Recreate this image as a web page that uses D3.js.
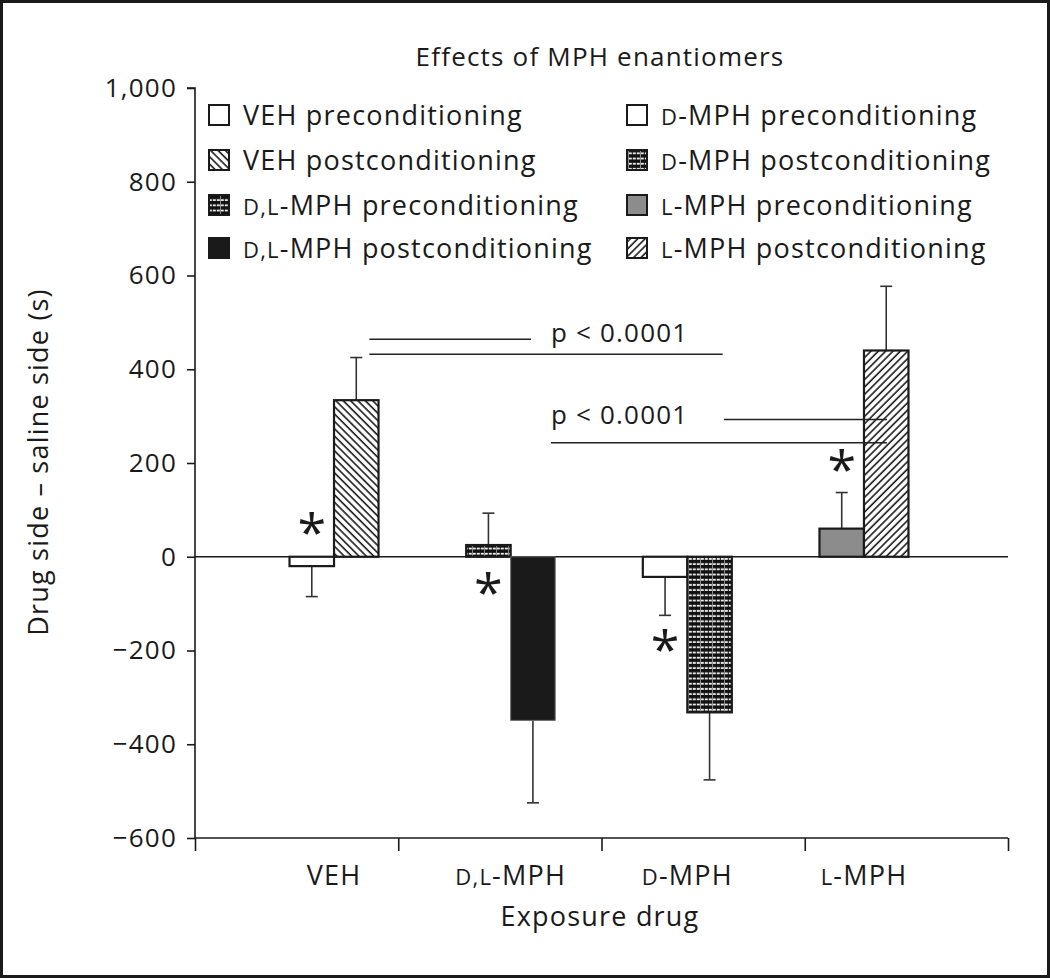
<!DOCTYPE html>
<html><head><meta charset="utf-8">
<script src="https://cdn.jsdelivr.net/npm/d3@7"></script>
<style>
html,body{margin:0;padding:0;background:#fff;}
svg{display:block;}
text{font-family:"Open Sans","Noto Sans",sans-serif;fill:#1a1a1a;}
</style></head><body>
<script>
// ---- data ----
const groups = ["VEH", "D,L-MPH", "D-MPH", "L-MPH"];
const preValues = [-20, 25, -43, 60];
const preErrors = [65, 68, 82, 77];
const postValues = [334, -349, -332, 440];
const postErrors = [91, 176, 144, 137];
const yTicks = [-600, -400, -200, 0, 200, 400, 600, 800, 1000];
const legendLabels = [
  ["VEH", " preconditioning"], ["VEH", " postconditioning"],
  ["D,L", "-MPH preconditioning"], ["D,L", "-MPH postconditioning"],
  ["D", "-MPH preconditioning"], ["D", "-MPH postconditioning"],
  ["L", "-MPH preconditioning"], ["L", "-MPH postconditioning"]
];
// asterisks: group index, y value
const asterisks = [[0, 61], [1, -67], [2, -189], [3, 196]];
// significance brackets: [x1 (group units), x2, y value]
const sigLines = [[0.2, 1.115, 464], [0.2, 2.2, 432], [2.207, 3.13, 293], [1.228, 3.13, 243]];
const sigTexts = [[1.228, 479, "p < 0.0001"], [1.228, 304, "p < 0.0001"]];

const W = 1050, H = 978;
const svg = d3.select("body").append("svg").attr("width", W).attr("height", H);

// patterns
const defs = svg.append("defs");
function hatch(id, angle) {
  const p = defs.append("pattern").attr("id", id).attr("patternUnits", "userSpaceOnUse")
    .attr("width", 5.2).attr("height", 10).attr("patternTransform", `rotate(${angle})`);
  p.append("rect").attr("width", 5.2).attr("height", 10).attr("fill", "#fff");
  p.append("line").attr("x1", 1).attr("x2", 1).attr("y1", 0).attr("y2", 10)
    .attr("stroke", "#1a1a1a").attr("stroke-width", 1.6);
}
hatch("hatchBack", -45);
hatch("hatchFwd", 45);
const g = defs.append("pattern").attr("id", "grid").attr("patternUnits", "userSpaceOnUse")
  .attr("width", 12).attr("height", 5.2);
g.append("rect").attr("width", 12).attr("height", 5.2).attr("fill", "#111");
[0.8, 4.8, 8.8].forEach(x => g.append("rect").attr("x", x).attr("y", 1.6).attr("width", 3).attr("height", 1.8).attr("fill", "#f2f2f2"));
g.append("rect").attr("x", 4).attr("y", 0).attr("width", 0.8).attr("height", 5.2).attr("fill", "#aaa");

const fills = {
  pre: ["#fff", "url(#grid)", "#fff", "#8c8c8c"],
  post: ["url(#hatchBack)", "#1a1a1a", "url(#grid)", "url(#hatchFwd)"]
};

// border
svg.append("rect").attr("x", 1.5).attr("y", 1.5).attr("width", W - 3).attr("height", H - 3)
  .attr("fill", "none").attr("stroke", "#1a1a1a").attr("stroke-width", 3);

// scales
const y = d3.scaleLinear().domain([-600, 1000]).range([838, 88]);
const x = d3.scaleBand().domain(groups).range([245.7, 952.3]).padding(0);
const xi = d3.scaleLinear().domain([0, 1]).range([x(groups[0]) + x.bandwidth() / 2, x(groups[1]) + x.bandwidth() / 2]);
const xTick = d3.scaleLinear().domain([0, 4]).range([195, 1008]);
const sub = d3.scaleBand().domain(["pre", "post"]).range([-44.5, 44.5]);
const cx = gname => x(gname) + x.bandwidth() / 2;

const LS = "1.2px";

// title
svg.append("text").attr("x", 600).attr("y", 66).attr("text-anchor", "middle")
  .attr("font-size", 26).attr("letter-spacing", LS).text("Effects of MPH enantiomers");

// y axis
const yAxis = svg.append("g").attr("transform", "translate(195,0)")
  .call(d3.axisLeft(y).tickValues(yTicks).tickSize(8).tickPadding(10)
    .tickFormat(d => (d < 0 ? "\u2212" : "") + d3.format(",")(Math.abs(d))));
yAxis.select(".domain").attr("stroke", "#1a1a1a").attr("stroke-width", 1.6).attr("d", `M-8,${y(1000)}H0V${y(-600)}`);
yAxis.selectAll(".tick line").attr("stroke", "#1a1a1a").attr("stroke-width", 1.6);
yAxis.selectAll(".tick text").attr("font-size", 26).attr("fill", "#1a1a1a").attr("letter-spacing", LS)
  .attr("font-family", "'Open Sans',sans-serif");

// x axis
const xAxis = svg.append("g").attr("transform", "translate(0,838)")
  .call(d3.axisBottom(xTick).tickValues([0, 1, 2, 3, 4]).tickSize(13).tickFormat(""));
xAxis.select(".domain").attr("stroke", "#1a1a1a").attr("stroke-width", 1.6).attr("d", `M${xTick(0)},0H${xTick(4)}`);
xAxis.selectAll(".tick line").attr("stroke", "#1a1a1a").attr("stroke-width", 1.6);

// category labels with small caps
function smallCapLabel(sel, first, rest, big, small) {
  sel.append("tspan").attr("font-size", small).text(first);
  sel.append("tspan").attr("font-size", big).text(rest);
}
groups.forEach(gname => {
  const t = svg.append("text").attr("x", cx(gname)).attr("y", 885).attr("text-anchor", "middle")
    .attr("letter-spacing", LS);
  if (gname === "VEH") t.attr("font-size", 27).text("VEH");
  else {
    const i = gname.indexOf("-");
    smallCapLabel(t, gname.slice(0, i), gname.slice(i), 27, 22);
  }
});

// zero line
svg.append("line").attr("x1", 195).attr("x2", 1008).attr("y1", y(0)).attr("y2", y(0))
  .attr("stroke", "#1a1a1a").attr("stroke-width", 1.6);

// bars
const rows = [];
groups.forEach((gname, i) => {
  rows.push({ g: gname, s: "pre", v: preValues[i], e: preErrors[i], fill: fills.pre[i], i });
  rows.push({ g: gname, s: "post", v: postValues[i], e: postErrors[i], fill: fills.post[i], i });
});
// error bars
rows.forEach(d => {
  const xc = cx(d.g) + sub(d.s) + sub.bandwidth() / 2;
  const end = d.v + Math.sign(d.v) * d.e;
  svg.append("line").attr("x1", xc).attr("x2", xc).attr("y1", y(d.v)).attr("y2", y(end))
    .attr("stroke", "#333").attr("stroke-width", 1.6);
  svg.append("line").attr("x1", xc - 6).attr("x2", xc + 6).attr("y1", y(end)).attr("y2", y(end))
    .attr("stroke", "#333").attr("stroke-width", 1.6);
});
svg.selectAll("rect.bar").data(rows).join("rect").attr("class", "bar")
  .attr("x", d => cx(d.g) + sub(d.s))
  .attr("width", sub.bandwidth())
  .attr("y", d => y(Math.max(0, d.v)))
  .attr("height", d => Math.abs(y(d.v) - y(0)))
  .attr("fill", d => d.fill)
  .attr("stroke", d => (d.g === "D,L-MPH" && d.s === "post") ? "#666" : "#1a1a1a")
  .attr("stroke-width", d => (d.g === "D,L-MPH" && d.s === "post") ? 1 : 2.2);

// asterisks
asterisks.forEach(([gi, v]) => {
  svg.append("text").attr("x", cx(groups[gi]) + sub("pre") + sub.bandwidth() / 2)
    .attr("y", y(v) + 23).attr("text-anchor", "middle").attr("font-size", 52)
    .attr("font-family", "'DejaVu Sans',sans-serif").text("*");
});

// significance lines
sigLines.forEach(([a, b, v]) => {
  svg.append("line").attr("x1", xi(a)).attr("x2", xi(b)).attr("y1", y(v)).attr("y2", y(v))
    .attr("stroke", "#222").attr("stroke-width", 1.5);
});
sigTexts.forEach(([a, v, t]) => {
  svg.append("text").attr("x", xi(a)).attr("y", y(v) + 10).attr("font-size", 26)
    .attr("letter-spacing", LS).text(t);
});

// legend
const legX = [208, 626], legY = [115, 160, 205, 248];
const legFills = [fills.pre[0], fills.post[0], fills.pre[1], fills.post[1], fills.pre[2], fills.post[2], fills.pre[3], fills.post[3]];
legendLabels.forEach((lab, k) => {
  const col = Math.floor(k / 4), row = k % 4;
  const lx = legX[col], ly = legY[row];
  svg.append("rect").attr("x", lx + 1).attr("y", ly - 10).attr("width", 20).attr("height", 20)
    .attr("fill", legFills[k]).attr("stroke", "#1a1a1a").attr("stroke-width", 2);
  const t = svg.append("text").attr("x", lx + 35).attr("y", ly + 10).attr("font-size", 27)
    .attr("letter-spacing", LS);
  if (lab[0] === "VEH") t.text(lab[0] + lab[1]);
  else smallCapLabel(t, lab[0], lab[1], 27, 22);
});

// axis titles
svg.append("text").attr("x", 600).attr("y", 926).attr("text-anchor", "middle").attr("font-size", 27)
  .attr("letter-spacing", LS).text("Exposure drug");
svg.append("text").attr("transform", "translate(48,462) rotate(-90)").attr("text-anchor", "middle")
  .attr("font-size", 27).attr("letter-spacing", LS).text("Drug side \u2013 saline side (s)");
</script>
</body></html>
